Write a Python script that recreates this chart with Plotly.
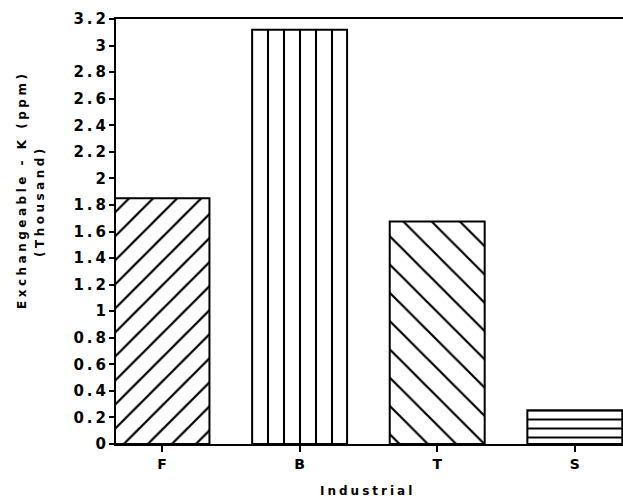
import plotly.graph_objects as go

categories = ["F", "B", "T", "S"]
values = [1.85, 3.12, 1.675, 0.255]
patterns = ["/", "|", "\\", "-"]
pattern_sizes = [17, 16, 20, 9]
pattern_solidity = [0.13, 0.13, 0.11, 0.22]
ytick_vals = [0, 0.2, 0.4, 0.6, 0.8, 1.0, 1.2, 1.4, 1.6, 1.8, 2.0, 2.2, 2.4, 2.6, 2.8, 3.0, 3.2]
ytick_labels = ["0", "0.2", "0.4", "0.6", "0.8", "1", "1.2", "1.4", "1.6", "1.8", "2", "2.2", "2.4", "2.6", "2.8", "3", "3.2"]
x_title = "Industrial"
y_title_1 = "Exchangeable - K (ppm)"
y_title_2 = "(Thousand)"

FONT = "DejaVu Sans"


def spaced(s, px):
    # letter-spacing on all but the last character (no trailing gap)
    if len(s) <= 1:
        return s
    return f'<span style="letter-spacing:{px}px">{s[:-1]}</span>{s[-1]}'


fig = go.Figure(
    go.Bar(
        x=categories,
        y=values,
        width=0.69,
        marker=dict(
            color="white",
            line=dict(color="black", width=2),
            pattern=dict(shape=patterns, size=pattern_sizes, solidity=pattern_solidity,
                         fgcolor="black", bgcolor="white", fgopacity=1),
        ),
    )
)

fig.update_layout(
    width=623, height=502,
    margin=dict(l=116, r=0, t=19, b=58, autoexpand=False),
    paper_bgcolor="white", plot_bgcolor="white",
    showlegend=False,
    font=dict(family=FONT, color="black", size=14),
    xaxis=dict(
        range=[-0.334, 3.35], showline=True, linecolor="black", linewidth=2,
        mirror=True, ticks="outside", ticklen=6, tickwidth=1.5, tickcolor="black",
        showgrid=False, zeroline=False, automargin=False,
        tickfont=dict(family=FONT, size=14, weight="bold"),
    ),
    yaxis=dict(
        range=[0, 3.2], showline=True, linecolor="black", linewidth=2,
        ticks="outside", ticklen=5, tickwidth=1.5, tickcolor="black",
        tickvals=ytick_vals, ticktext=[spaced(t, 3) for t in ytick_labels],
        showgrid=False, zeroline=False, automargin=False,
        tickfont=dict(family=FONT, size=15, weight="bold"),
    ),
    annotations=[
        dict(text=spaced(x_title, 3), xref="paper", yref="paper", x=0.493, y=0,
             xanchor="center", yanchor="middle",
             yshift=-47, showarrow=False, font=dict(family=FONT, size=12, weight="bold")),
        dict(text=spaced(y_title_1, 3.5), xref="paper", yref="paper", x=0, y=0.593,
             xanchor="center", yanchor="middle",
             xshift=-94, showarrow=False, textangle=-90,
             font=dict(family=FONT, size=12, weight="bold")),
        dict(text=spaced(y_title_2, 3.5), xref="paper", yref="paper", x=0, y=0.567,
             xanchor="center", yanchor="middle",
             xshift=-76, showarrow=False, textangle=-90,
             font=dict(family=FONT, size=12, weight="bold")),
    ],
)

fig.write_html(
    "out.html",
    config={"displayModeBar": False},
    post_script="document.body.style.margin='0';document.body.style.overflow='hidden';",
)
